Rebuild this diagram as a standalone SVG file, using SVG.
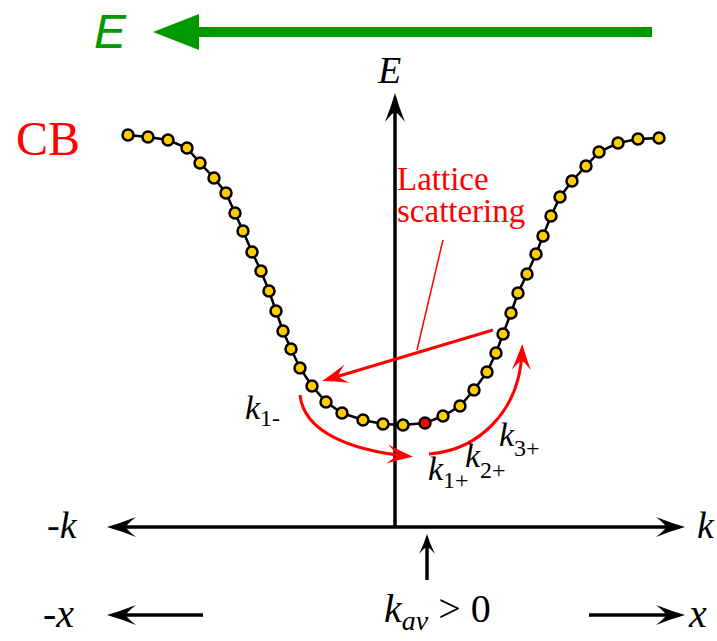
<svg xmlns="http://www.w3.org/2000/svg" width="717" height="641" viewBox="0 0 717 641">
  <style>
    .ax { stroke: #000; stroke-width: 3.5; fill: none; }
    .rd { stroke: #ff0000; stroke-width: 3; fill: none; }
    .dot { fill: #ffcc00; stroke: #000; stroke-width: 2.5; }
    .dotr { fill: #ff0000; stroke: #000; stroke-width: 2.5; }
  </style>
  <defs>
    <marker id="ah" markerUnits="userSpaceOnUse" refX="-8" refY="0" markerWidth="40" markerHeight="30" orient="auto" overflow="visible">
      <path d="M0,0 Q-14,-4 -29,-10 Q-19,-2 -19,0 Q-19,2 -29,10 Q-14,4 0,0 Z" fill="#000"/>
    </marker>
    <marker id="ahs" markerUnits="userSpaceOnUse" refX="-6" refY="0" markerWidth="40" markerHeight="30" orient="auto" overflow="visible">
      <path d="M0,0 Q-10,-3 -20,-8 Q-13,-2 -13,0 Q-13,2 -20,8 Q-10,3 0,0 Z" fill="#000"/>
    </marker>
    <marker id="ahr" markerUnits="userSpaceOnUse" refX="-7" refY="0" markerWidth="40" markerHeight="30" orient="auto" overflow="visible">
      <path d="M0,0 Q-12,-4 -26,-9.5 Q-17,-2 -17,0 Q-17,2 -26,9.5 Q-12,4 0,0 Z" fill="#ff0000"/>
    </marker>
  </defs>

  <!-- Field arrow -->
  <g id="field">
    <text x="94" y="48" font-family="'Liberation Sans', Arial, sans-serif" font-style="italic" font-size="48" fill="#009900">E</text>
    <line x1="652" y1="32" x2="195" y2="32" stroke="#009900" stroke-width="10"/>
    <polygon points="153,32 199,14 199,50" fill="#009900"/>
  </g>

  <!-- Axes and arrows (connectors) -->
  <g id="connectors">
    <line class="ax" x1="395" y1="527" x2="395" y2="101" marker-end="url(#ah)"/>
    <line class="ax" x1="395" y1="527" x2="115" y2="527" marker-end="url(#ah)"/>
    <line class="ax" x1="395" y1="527" x2="677" y2="527" marker-end="url(#ah)"/>
    <line class="ax" x1="427" y1="580" x2="427" y2="540" marker-end="url(#ahs)"/>
    <line class="ax" x1="203" y1="615" x2="115" y2="615" marker-end="url(#ah)"/>
    <line class="ax" x1="589" y1="615" x2="677" y2="615" marker-end="url(#ah)"/>
    <line class="rd" x1="493" y1="330" x2="329" y2="379" marker-end="url(#ahr)"/>
    <line x1="443" y1="240" x2="417" y2="350" stroke="#ff0000" stroke-width="1.5"/>
    <path class="rd" d="M300,395 C304,432 350,450 406,456" marker-end="url(#ahr)"/>
    <path class="rd" d="M429,454 C480,450 520,410 522,351" marker-end="url(#ahr)"/>
  </g>

  <!-- Band -->
  <g id="band">
    <polyline fill="none" stroke="#000" stroke-width="2.5" points="128,135 148,137 168,140 187,148 200,163 214,178 226,193 235,213 243,231 252,252 261,271 269,291 276,311 283,331 291,349 300,368 312,386 326,402 342,413 363,420 383,424 403,425 425,423 443,416 460,406 474,390 487,372 496,353 503,334 511,313 518,293 527,274 536,254 543,236 551,216 560,197 572,181 586,166 599,152 618,143 638,139 659,138"/>
    <g>
      <circle class="dot" cx="128" cy="135" r="5.5"/>
      <circle class="dot" cx="148" cy="137" r="5.5"/>
      <circle class="dot" cx="168" cy="140" r="5.5"/>
      <circle class="dot" cx="187" cy="148" r="5.5"/>
      <circle class="dot" cx="200" cy="163" r="5.5"/>
      <circle class="dot" cx="214" cy="178" r="5.5"/>
      <circle class="dot" cx="226" cy="193" r="5.5"/>
      <circle class="dot" cx="235" cy="213" r="5.5"/>
      <circle class="dot" cx="243" cy="231" r="5.5"/>
      <circle class="dot" cx="252" cy="252" r="5.5"/>
      <circle class="dot" cx="261" cy="271" r="5.5"/>
      <circle class="dot" cx="269" cy="291" r="5.5"/>
      <circle class="dot" cx="276" cy="311" r="5.5"/>
      <circle class="dot" cx="283" cy="331" r="5.5"/>
      <circle class="dot" cx="291" cy="349" r="5.5"/>
      <circle class="dot" cx="300" cy="368" r="5.5"/>
      <circle class="dot" cx="312" cy="386" r="5.5"/>
      <circle class="dot" cx="326" cy="402" r="5.5"/>
      <circle class="dot" cx="342" cy="413" r="5.5"/>
      <circle class="dot" cx="363" cy="420" r="5.5"/>
      <circle class="dot" cx="383" cy="424" r="5.5"/>
      <circle class="dot" cx="403" cy="425" r="5.5"/>
      <circle class="dotr" cx="425" cy="423" r="5.5"/>
      <circle class="dot" cx="443" cy="416" r="5.5"/>
      <circle class="dot" cx="460" cy="406" r="5.5"/>
      <circle class="dot" cx="474" cy="390" r="5.5"/>
      <circle class="dot" cx="487" cy="372" r="5.5"/>
      <circle class="dot" cx="496" cy="353" r="5.5"/>
      <circle class="dot" cx="503" cy="334" r="5.5"/>
      <circle class="dot" cx="511" cy="313" r="5.5"/>
      <circle class="dot" cx="518" cy="293" r="5.5"/>
      <circle class="dot" cx="527" cy="274" r="5.5"/>
      <circle class="dot" cx="536" cy="254" r="5.5"/>
      <circle class="dot" cx="543" cy="236" r="5.5"/>
      <circle class="dot" cx="551" cy="216" r="5.5"/>
      <circle class="dot" cx="560" cy="197" r="5.5"/>
      <circle class="dot" cx="572" cy="181" r="5.5"/>
      <circle class="dot" cx="586" cy="166" r="5.5"/>
      <circle class="dot" cx="599" cy="152" r="5.5"/>
      <circle class="dot" cx="618" cy="143" r="5.5"/>
      <circle class="dot" cx="638" cy="139" r="5.5"/>
      <circle class="dot" cx="659" cy="138" r="5.5"/>
    </g>
  </g>

  <!-- Labels -->
  <g font-family="'Liberation Serif', 'Times New Roman', serif">
    <g id="label-CB"><text x="16" y="155" font-size="48" fill="#ff0000">CB</text></g>
    <g id="label-E"><text x="378" y="83" font-size="38" font-style="italic">E</text></g>
    <g id="label-lattice">
      <text x="397" y="190" font-size="33" fill="#ff0000">Lattice</text>
      <text x="397" y="222" font-size="33" fill="#ff0000">scattering</text>
    </g>
    <g id="label-k1m"><text x="245" y="419" font-size="34" font-style="italic">k<tspan font-style="normal" font-size="24" dy="7">1-</tspan></text></g>
    <g id="label-k1p"><text x="428" y="480" font-size="34" font-style="italic">k<tspan font-style="normal" font-size="24" dy="8">1+</tspan></text></g>
    <g id="label-k2p"><text x="465" y="467" font-size="34" font-style="italic">k<tspan font-style="normal" font-size="24" dy="11">2+</tspan></text></g>
    <g id="label-k3p"><text x="499" y="446" font-size="34" font-style="italic">k<tspan font-style="normal" font-size="24" dy="10">3+</tspan></text></g>
    <g id="label-negk"><text x="47" y="538" font-size="38" font-style="italic">-k</text></g>
    <g id="label-k"><text x="697" y="538" font-size="38" font-style="italic">k</text></g>
    <g id="label-negx"><text x="43" y="627" font-size="40" font-style="italic">-x</text></g>
    <g id="label-x"><text x="689" y="627" font-size="40" font-style="italic">x</text></g>
    <g id="label-kav"><text x="384" y="622" font-size="40" font-style="italic">k<tspan font-size="28" dy="8">av</tspan><tspan font-style="normal" font-size="40" dy="-8"> &gt; 0</tspan></text></g>
  </g>
</svg>
